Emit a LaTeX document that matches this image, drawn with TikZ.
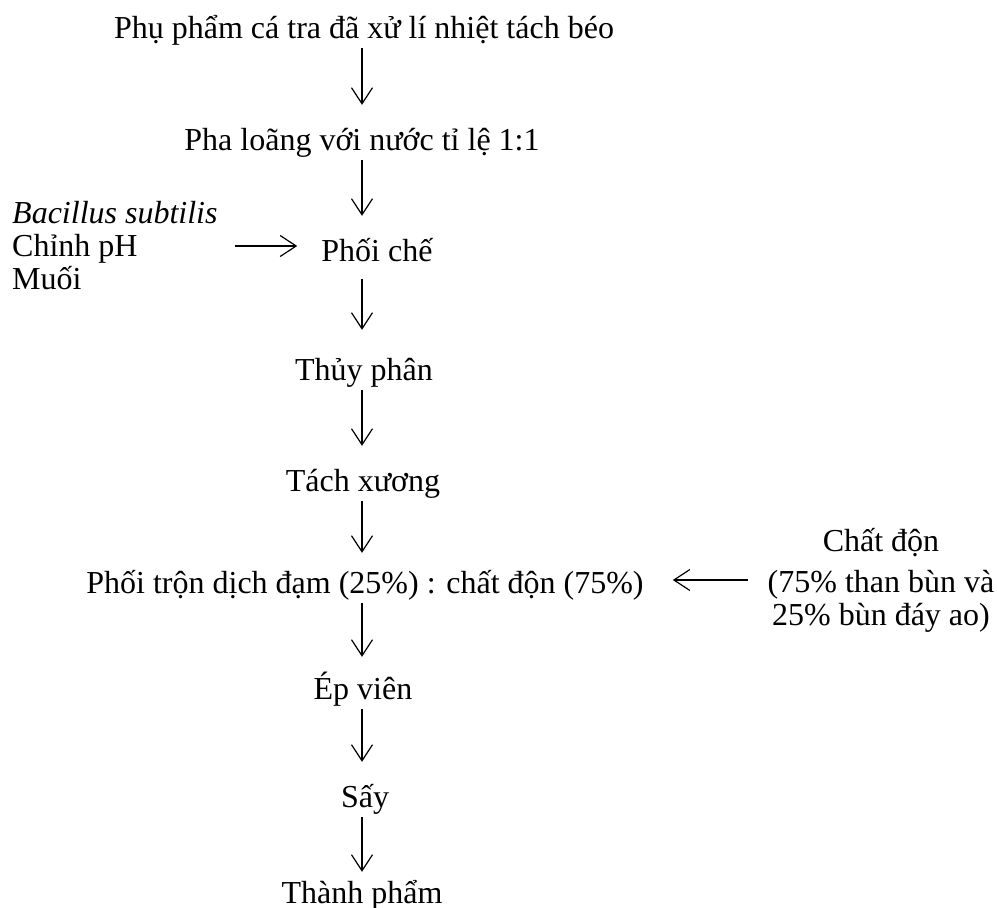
\documentclass[tikz,border=0pt]{standalone}
\usepackage{fontspec}
\setmainfont{Liberation Serif}
\usetikzlibrary{arrows.meta,positioning}
\tikzset{
  stage/.style={anchor=base, inner xsep=2pt, inner ysep=2pt,
    font=\fontsize{32}{33}\selectfont, text height=23pt, text depth=8pt},
  side/.style={inner sep=0pt, font=\fontsize{32}{33}\selectfont},
  flow/.style={-{Straight Barb[length=16pt,width=21pt]}, line width=1.2pt},
}

\begin{document}
\begin{tikzpicture}[x=1pt, y=-1pt]
\useasboundingbox (0,0) rectangle (997,908);
% Process column
\coordinate (col) at (362,0);
\node[stage] (raw)    at (364,38)  {Phụ phẩm cá tra đã xử lí nhiệt tách béo};
\node[stage] (dilute) at (362,150) {Pha loãng với nước tỉ lệ 1:1};
\node[stage] (mix)    at (377,261) {Phối chế};
\node[stage] (hydro)  at (364,380) {Thủy phân};
\node[stage] (bone)   at (363,491) {Tách xương};
\node[stage] (blend)  at (365,593) {Phối trộn dịch đạm (25\%) : chất độn (75\%)};
\node[stage] (press)  at (363,699) {Ép viên};
\node[stage] (dry)    at (365,807) {Sấy};
\node[stage] (prod)   at (362,903) {Thành phẩm};
% Side inputs
\node[side, anchor=west, align=left] (additive) at (12,246)
  {\textit{Bacillus subtilis}\\ Chỉnh pH\\ Muối};
\node[side, align=center] (filler) at (881,580)
  {Chất độn\\[8pt] (75\% than bùn và\\ 25\% bùn đáy ao)};
% Main flow
\draw[flow, shorten >=20pt] (raw.south -| col)    -- (dilute.north -| col);
\draw[flow, shorten >=20pt] (dilute.south -| col) -- (mix.north -| col);
\draw[flow, shorten <=8pt, shorten >=25pt] (mix.south -| col) -- (hydro.north -| col);
\draw[flow, shorten >=20pt] (hydro.south -| col)  -- (bone.north -| col);
\draw[flow, shorten >=15pt] (bone.south -| col)   -- (blend.north -| col);
\draw[flow, shorten >=17pt] (blend.south -| col)  -- (press.north -| col);
\draw[flow, shorten >=20pt] (press.south -| col)  -- (dry.north -| col);
\draw[flow, shorten >=6pt]  (dry.south -| col)    -- (prod.north -| col);
% Inputs
\draw[flow, shorten <=17pt, shorten >=22pt] (additive.east) -- (additive.east -| mix.west);
\draw[flow, shorten <=20pt, shorten >=27pt] (filler.west) -- (filler.west -| blend.east);
\end{tikzpicture}
\end{document}
